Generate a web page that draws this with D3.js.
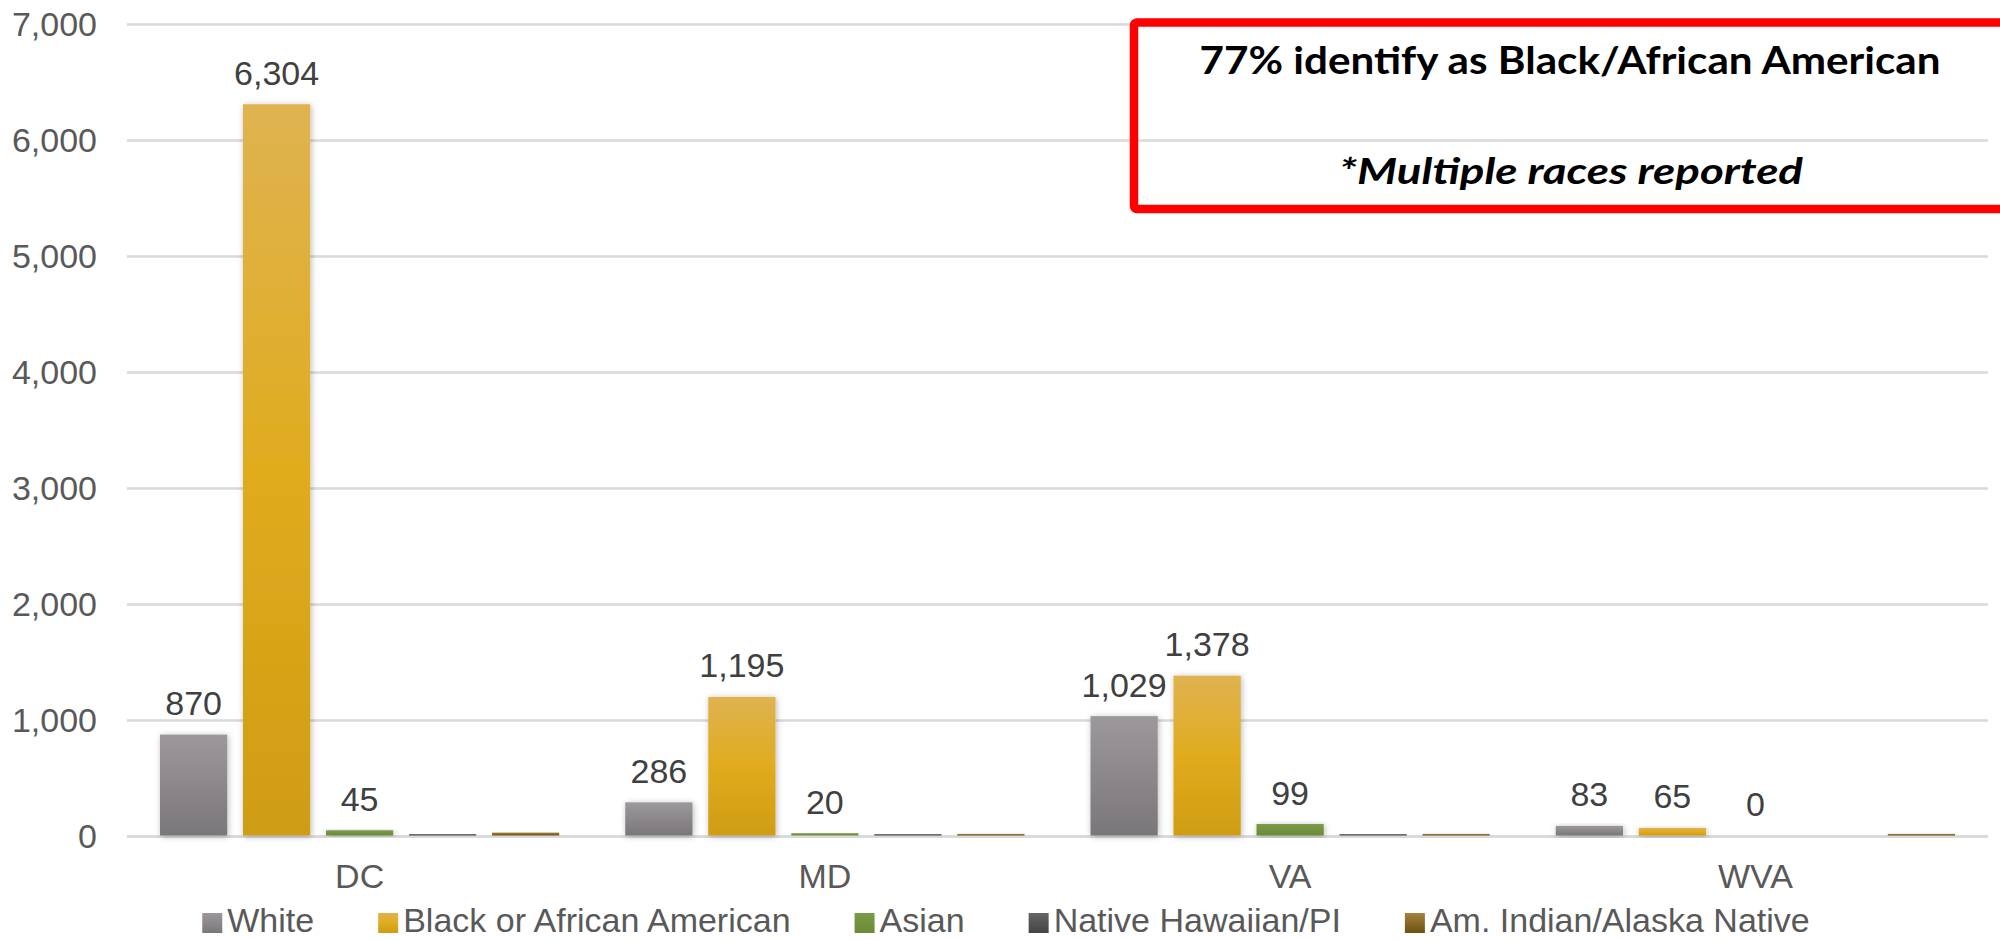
<!DOCTYPE html>
<html>
<head>
<meta charset="utf-8">
<script src="https://cdn.jsdelivr.net/npm/d3@7/dist/d3.min.js"></script>
<style>
  html, body { margin: 0; padding: 0; background: #fff; }
  svg { display: block; }
</style>
</head>
<body>
<svg id="chart" width="2000" height="940"></svg>
<script>
// ---- data ----
const categories = ["DC", "MD", "VA", "WVA"];
const seriesNames = ["White", "Black or African American", "Asian", "Native Hawaiian/PI", "Am. Indian/Alaska Native"];
const whiteValues = [870, 286, 1029, 83];
const blackValues = [6304, 1195, 1378, 65];
const asianValues = [45, 20, 99, 0];
const nhpiValues = [12, 12, 12, 0];
const aianValues = [25, 14, 14, 14];
const labeledSeries = [true, true, true, false, false];
const yTicks = [0, 1000, 2000, 3000, 4000, 5000, 6000, 7000];
const noteLines = ["77% identify as Black/African American", "*Multiple races reported"];

const seriesValues = [whiteValues, blackValues, asianValues, nhpiValues, aianValues];
const seriesColors = [
  ["#9c989b", "#7a767a"],
  ["#dfb350", "#e0ac1e", "#cf9c13"],
  ["#7b9b49", "#6a8a37"],
  ["#666666", "#444444"],
  ["#a3823f", "#6e510f"]
];

const svg = d3.select("#chart");
const plot = { left: 127, right: 1988, top: 24, bottom: 836 };
const FONT = "'Liberation Sans', Arial, Helvetica, sans-serif";

// defs: gradients + shadow
const defs = svg.append("defs");
seriesColors.forEach((cols, i) => {
  const g = defs.append("linearGradient").attr("id", "grad" + i)
    .attr("x1", 0).attr("y1", 0).attr("x2", 0).attr("y2", 1);
  cols.forEach((c, j) => g.append("stop").attr("offset", j / (cols.length - 1)).attr("stop-color", c));
});
const f = defs.append("filter").attr("id", "shadow").attr("x", "-20%").attr("y", "-20%").attr("width", "140%").attr("height", "140%");
f.append("feDropShadow").attr("dx", 1).attr("dy", 1).attr("stdDeviation", 3).attr("flood-color", "#000").attr("flood-opacity", 0.28);

// scales
const y = d3.scaleLinear().domain([0, 7000]).range([plot.bottom, plot.top]);
const x0 = d3.scaleBand().domain(categories).range([plot.left, plot.right]).padding(0);
const x1 = d3.scaleBand().domain(seriesNames).range([33, x0.bandwidth() - 33]).paddingInner(0.19).paddingOuter(0);

// y axis with gridlines
const yAxis = svg.append("g").attr("transform", `translate(${plot.left},0)`)
  .call(d3.axisLeft(y).tickValues(yTicks).tickFormat(d3.format(",")).tickSize(-(plot.right - plot.left)).tickPadding(30));
yAxis.select(".domain").remove();
yAxis.selectAll(".tick line").attr("stroke", "#d9d9d9").attr("stroke-width", 2.5);
yAxis.selectAll(".tick text").attr("fill", "#595959").attr("font-family", FONT).attr("font-size", 34).attr("dy", "0.35em");

// zero axis line
svg.append("line").attr("x1", plot.left).attr("x2", plot.right)
  .attr("y1", y(0) + 0.5).attr("y2", y(0) + 0.5).attr("stroke", "#d9d9d9").attr("stroke-width", 2.5);

// bars
const groups = svg.append("g").selectAll("g").data(categories).join("g")
  .attr("transform", d => `translate(${x0(d)},0)`);
groups.each(function (cat, ci) {
  const g = d3.select(this);
  seriesNames.forEach((s, si) => {
    const v = seriesValues[si][ci];
    if (v > 0) {
      g.append("rect")
        .attr("x", x1(s)).attr("width", x1.bandwidth())
        .attr("y", y(v) - 0.5).attr("height", y(0) - y(v))
        .attr("fill", `url(#grad${si})`)
        .attr("filter", v > 30 ? "url(#shadow)" : null);
    }
  });
});

// value labels
groups.each(function (cat, ci) {
  const g = d3.select(this);
  seriesNames.forEach((s, si) => {
    if (!labeledSeries[si]) return;
    const v = seriesValues[si][ci];
    g.append("text")
      .attr("x", x1(s) + x1.bandwidth() / 2)
      .attr("y", y(v) - 20)
      .attr("text-anchor", "middle")
      .attr("font-family", FONT).attr("font-size", 34).attr("fill", "#404040")
      .text(d3.format(",")(v));
  });
});

// x axis labels
const xAxis = svg.append("g").attr("transform", `translate(0,${plot.bottom})`)
  .call(d3.axisBottom(x0).tickSize(0).tickPadding(28));
xAxis.select(".domain").remove();
xAxis.selectAll(".tick text").attr("fill", "#595959").attr("font-family", FONT).attr("font-size", 34);

// legend
const legend = svg.append("g");
const items = legend.selectAll("g").data(seriesNames).join("g");
items.append("rect").attr("width", 20).attr("height", 20).attr("y", 913)
  .attr("fill", (d, i) => `url(#grad${i})`);
items.append("text").attr("x", 25).attr("y", 932)
  .attr("font-family", FONT).attr("font-size", 34).attr("fill", "#595959")
  .text(d => d);
const gap = 64;
let widths = [];
items.each(function () { widths.push(25 + d3.select(this).select("text").node().getComputedTextLength()); });
const total = d3.sum(widths) + gap * (widths.length - 1);
let cx = 1006 - total / 2;
items.each(function (d, i) {
  d3.select(this).attr("transform", `translate(${cx},0)`);
  cx += widths[i] + gap;
});

// annotation box
svg.append("rect").attr("x", 1134).attr("y", 22.5).attr("width", 900).attr("height", 186.5)
  .attr("rx", 3).attr("fill", "none").attr("stroke", "#ff0000").attr("stroke-width", 8.5);
svg.append("text").attr("x", 1570).attr("y", 74).attr("text-anchor", "middle")
  .attr("font-family", "Lato, 'Open Sans', sans-serif").attr("font-weight", "bold").attr("font-size", 38)
  .attr("fill", "#000").attr("textLength", 741).attr("lengthAdjust", "spacingAndGlyphs")
  .text(noteLines[0]);
svg.append("text").attr("x", 1571).attr("y", 184).attr("text-anchor", "middle")
  .attr("font-family", "Lato, 'Open Sans', sans-serif").attr("font-weight", "bold").attr("font-style", "italic").attr("font-size", 36)
  .attr("fill", "#000").attr("textLength", 464).attr("lengthAdjust", "spacingAndGlyphs")
  .text(noteLines[1]);
</script>
</body>
</html>
